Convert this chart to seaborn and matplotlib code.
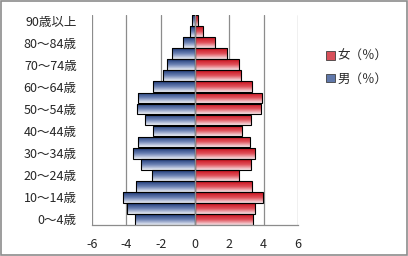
import numpy as np
import pandas as pd
import matplotlib
matplotlib.use('Agg')
import matplotlib.pyplot as plt
import seaborn as sns
from matplotlib.patches import Patch, Rectangle
from matplotlib.colors import LinearSegmentedColormap

ages = ['0～4歳', '5～9歳', '10～14歳', '15～19歳', '20～24歳', '25～29歳',
        '30～34歳', '35～39歳', '40～44歳', '45～49歳', '50～54歳', '55～59歳',
        '60～64歳', '65～69歳', '70～74歳', '75～79歳', '80～84歳', '85～89歳',
        '90歳以上']
male = [3.52, 3.99, 4.22, 3.44, 2.53, 3.17, 3.64, 3.34, 2.47, 2.91,
        3.40, 3.32, 2.47, 1.88, 1.63, 1.32, 0.71, 0.28, 0.15]
female = [3.38, 3.50, 3.96, 3.32, 2.56, 3.26, 3.50, 3.20, 2.74, 3.26,
          3.85, 3.90, 3.32, 2.66, 2.56, 1.88, 1.16, 0.46, 0.17]
xticks = [-6, -4, -2, 0, 2, 4, 6]
label_f = '女（％）'
label_m = '男（％）'

sns.set_style('white')
plt.rcParams['font.family'] = ['Noto Sans CJK JP', 'DejaVu Sans']

df = pd.DataFrame({
    'age': ages * 2,
    'value': [-v for v in male] + female,
    'sex': [label_m] * len(ages) + [label_f] * len(ages),
})
order = ages[::-1]

fig = plt.figure(figsize=(4.08, 2.56), dpi=100)
ax = fig.add_axes([92/408, 1 - 225/256, (298-92)/408, (225-15)/256])

sns.barplot(data=df, x='value', y='age', hue='sex', order=order,
            hue_order=[label_m, label_f], dodge=False, orient='h',
            palette={label_m: '#5a74a8', label_f: '#d8404a'},
            width=0.97, edgecolor='black', linewidth=0.8, legend=False, ax=ax)

cm_m = LinearSegmentedColormap.from_list('m', ['#1e3a78', '#6c82b4', '#eef1f7'])
cm_f = LinearSegmentedColormap.from_list('f', ['#c8101c', '#e0505a', '#f8e8ea'])
grad = np.linspace(0, 1, 64).reshape(-1, 1)
for p in list(ax.patches):
    x0, y0, w, h = p.get_x(), p.get_y(), p.get_width(), p.get_height()
    if w == 0:
        continue
    xl, xr = min(x0, x0 + w), max(x0, x0 + w)
    cmap = cm_m if xl < 0 else cm_f
    yt, yb = min(y0, y0 + h), max(y0, y0 + h)
    im = ax.imshow(grad, extent=[xl, xr, yb, yt], origin='upper', aspect='auto',
                   cmap=cmap, zorder=p.get_zorder() - 0.01, interpolation='bilinear')
    im.set_clip_path(p)
    p.set_facecolor('none')

ax.set_xlim(-6, 6)
ax.set_ylim(18.5, -0.5)
ax.set_xticks(xticks)
ax.set_xticklabels([str(t) for t in xticks], fontsize=9)
ax.set_yticks(range(len(order)))
ax.set_yticklabels([lab if i % 2 == 0 else '' for i, lab in enumerate(order)], fontsize=9)
ax.set_xlabel('')
ax.set_ylabel('')
ax.tick_params(axis='y', length=0, pad=11)
ax.tick_params(axis='x', length=4, color='#808080', direction='out', pad=5)
for t in xticks:
    if t != 0:
        ax.axvline(t, color='#8c8c8c', lw=0.9, zorder=0)
ax.axvline(0, color='#8c8c8c', lw=1.0, zorder=5)
for s in ['top', 'right', 'left']:
    ax.spines[s].set_visible(False)
ax.spines['bottom'].set_color('#8c8c8c')
ax.spines['bottom'].set_linewidth(0.9)

handles = [Patch(facecolor='#d8505a', edgecolor='#404040', lw=0.6, label=label_f),
           Patch(facecolor='#6078aa', edgecolor='#404040', lw=0.6, label=label_m)]
fig.legend(handles=handles, loc='upper left', bbox_to_anchor=(316/408, 1 - 40/256),
           frameon=False, fontsize=9, handlelength=0.7, handleheight=0.7,
           handletextpad=0.2, labelspacing=0.75, borderpad=0.3)

fig.patches.append(Rectangle((0.002, 0.003), 0.995, 0.993, transform=fig.transFigure,
                             fill=False, edgecolor='#8c8c8c', lw=1.2))
fig.savefig('out.png', dpi=100)
